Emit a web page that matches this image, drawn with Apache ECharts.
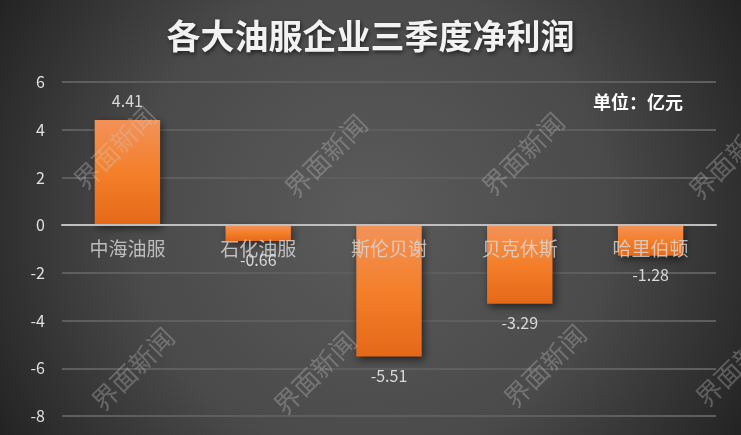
<!DOCTYPE html>
<html>
<head>
<meta charset="utf-8">
<script src="https://cdn.jsdelivr.net/npm/echarts@6/dist/echarts.min.js"></script>
<style>html,body{margin:0;padding:0;background:#333;}#c{width:741px;height:435px;}</style>
</head>
<body>
<div id="c"></div>
<script>
var titleText = '各大油服企业三季度净利润';
var unitText = '单位：亿元';
var categories = ['中海油服', '石化油服', '斯伦贝谢', '贝克休斯', '哈里伯顿'];
var profits = [4.41, -0.66, -5.51, -3.29, -1.28];
var yTicks = [-8, -6, -4, -2, 0, 2, 4, 6];
var watermarkText = '界面新闻';

var FONT = '"Noto Sans CJK SC", "Noto Sans", sans-serif';
var wmPos = [[115,148],[326,156],[523,154],[730,158],[133,369],[315,373],[545,366],[737,365]];
var graphics = wmPos.map(function (p) {
  return {
    type: 'text', x: p[0], y: p[1], rotation: Math.PI / 4, z: 100,
    style: { text: watermarkText, fill: 'rgba(210,210,210,0.3)', font: '26px ' + FONT, align: 'center', verticalAlign: 'middle' }
  };
});
graphics.push({
  type: 'text', x: 593, y: 102, z: 100,
  style: { text: unitText, fill: '#ffffff', font: 'bold 18px ' + FONT, verticalAlign: 'middle' }
});

var chart = echarts.init(document.getElementById('c'));
chart.setOption({
  animation: false,
  backgroundColor: {
    type: 'radial', x: 0.5, y: 0.5, r: 1.0,
    colorStops: [{ offset: 0, color: '#5b5b5b' }, { offset: 0.55, color: '#4a4a4a' }, { offset: 1, color: '#222222' }]
  },
  title: {
    text: titleText, left: 'center', top: 14,
    textStyle: {
      color: '#f2f2f2', fontFamily: FONT, fontWeight: 'bold', fontSize: 34,
      textShadowColor: 'rgba(0,0,0,0.6)', textShadowBlur: 4, textShadowOffsetX: 1, textShadowOffsetY: 2
    }
  },
  graphic: graphics,
  grid: { left: 62, right: 25, top: 82, bottom: 19, containLabel: false, outerBoundsMode: 'none' },
  xAxis: {
    type: 'category', data: categories, z: 10,
    axisLine: { onZero: true, lineStyle: { color: '#bfbfbf', width: 2 } },
    axisTick: { show: false },
    axisLabel: { show: false }
  },
  yAxis: {
    type: 'value', min: -8, max: 6, interval: 2,
    axisLine: { show: false }, axisTick: { show: false },
    splitLine: { lineStyle: { color: '#5e5e5e', width: 2 } },
    axisLabel: { color: '#e0e0e0', fontSize: 16, fontFamily: FONT, margin: 17 }
  },
  series: [{
    type: 'bar', data: profits.map(function (v) {
      return { value: v, label: { position: v < 0 ? 'bottom' : 'top' } };
    }),
    barWidth: '50%', z: 2,
    itemStyle: {
      color: { type: 'linear', x: 0, y: 0, x2: 0, y2: 1, colorStops: [{ offset: 0, color: '#f29259' }, { offset: 0.5, color: '#f47f2a' }, { offset: 1, color: '#e56818' }] },
      shadowColor: 'rgba(0,0,0,0.55)', shadowBlur: 8, shadowOffsetX: 2, shadowOffsetY: 3
    },
    label: {
      show: true, distance: 11, color: '#d9d9d9', fontSize: 16, fontFamily: FONT,
      formatter: function (p) { return p.value.toFixed(2); }
    }
  }, {
    type: 'scatter', data: categories.map(function () { return 0; }),
    symbolSize: 0, z: 5, silent: true,
    label: {
      show: true, position: 'bottom', distance: 14, color: '#d9d9d9', fontSize: 19, fontFamily: FONT,
      formatter: function (p) { return categories[p.dataIndex]; }
    }
  }]
});
</script>
</body>
</html>
